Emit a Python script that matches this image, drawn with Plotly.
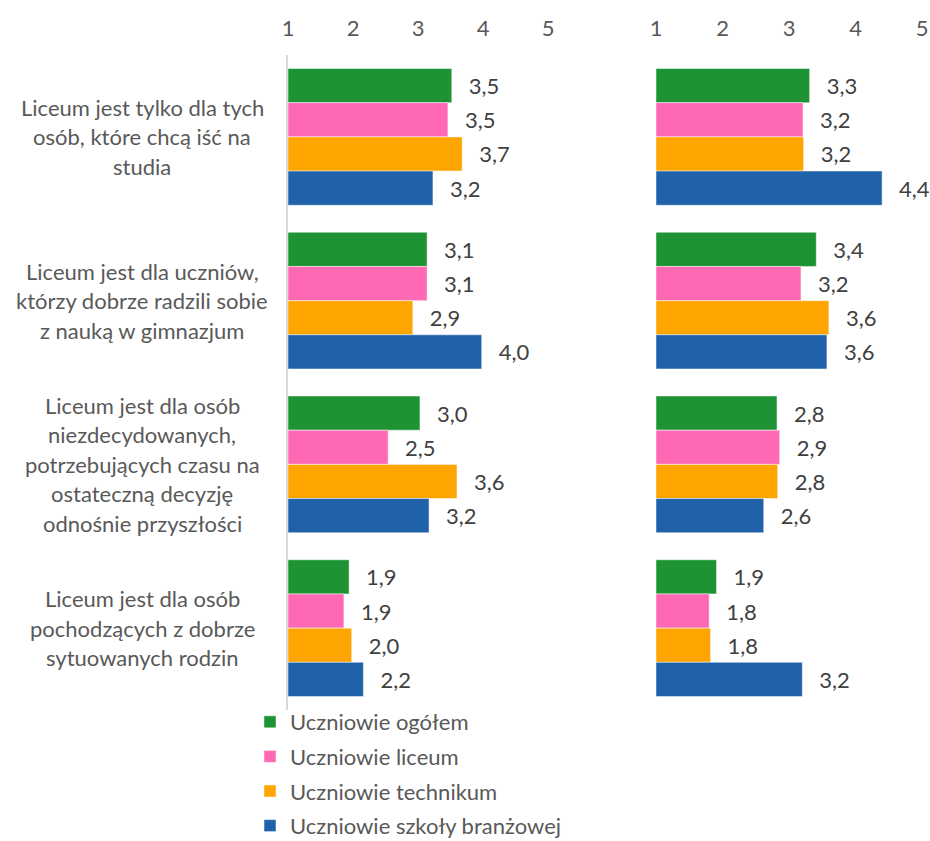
import plotly.graph_objects as go

categories = [
    "Liceum jest tylko dla tych<br>osób, które chcą iść na<br>studia",
    "Liceum jest dla uczniów,<br>którzy dobrze radzili sobie<br>z nauką w gimnazjum",
    "Liceum jest dla osób<br>niezdecydowanych,<br>potrzebujących czasu na<br>ostateczną decyzję<br>odnośnie przyszłości",
    "Liceum jest dla osób<br>pochodzących z dobrze<br>sytuowanych rodzin",
]
series_names = ["Uczniowie ogółem", "Uczniowie liceum", "Uczniowie technikum", "Uczniowie szkoły branżowej"]
series_colors = ["#1E9334", "#FF69B4", "#FFA500", "#1F62AA"]

left_ogolem = [3.52, 3.14, 3.03, 1.94]
left_liceum = [3.46, 3.14, 2.54, 1.86]
left_technikum = [3.68, 2.92, 3.60, 1.98]
left_branzowa = [3.23, 3.98, 3.17, 2.16]

right_ogolem = [3.31, 3.41, 2.82, 1.91]
right_liceum = [3.21, 3.18, 2.86, 1.80]
right_technikum = [3.22, 3.60, 2.83, 1.82]
right_branzowa = [4.40, 3.57, 2.62, 3.20]

axis_ticks = [1, 2, 3, 4, 5]
axis_min = 1

left_values = [left_ogolem, left_liceum, left_technikum, left_branzowa]
right_values = [right_ogolem, right_liceum, right_technikum, right_branzowa]

W, H = 930, 841
TXT = "#595959"
FONT = "Lato"
FS = 22

fig = go.Figure()
for i, name in enumerate(series_names):
    for panel, vals in ((0, left_values[i]), (1, right_values[i])):
        fig.add_trace(go.Bar(
            y=categories,
            x=[v - axis_min for v in vals],
            base=axis_min,
            customdata=vals,
            orientation="h",
            name=name,
            legendgroup=name,
            showlegend=(panel == 0),
            marker=dict(color=series_colors[i], line=dict(color="rgba(255,255,255,0.6)", width=0.8)),
            texttemplate="\u00a0\u00a0\u2009%{customdata:.1f}",
            textposition="outside",
            textfont=dict(family=FONT, size=FS, color="#404040"),
            constraintext="none",
            cliponaxis=False,
            hoverinfo="skip",
            xaxis="x" if panel == 0 else "x2",
            yaxis="y" if panel == 0 else "y2",
        ))

ydom = [(H - 710) / H, (H - 55) / H]
xcommon = dict(
    range=[1, 5], side="top", tickvals=axis_ticks, showgrid=False, zeroline=False,
    showline=False, ticks="outside", ticklen=9, tickcolor="rgba(0,0,0,0)",
    tickfont=dict(family=FONT, size=FS, color=TXT), automargin=False, fixedrange=True,
)
ycommon = dict(
    type="category", categoryorder="array", categoryarray=categories,
    range=[3.5, -0.5], showticklabels=False, showgrid=False, zeroline=False,
    ticks="", domain=ydom, automargin=False, fixedrange=True,
)

annotations = []
LS = 29.5
for ci, cat in enumerate(categories):
    lines = cat.split("<br>")
    n = len(lines)
    for j, line in enumerate(lines):
        annotations.append(dict(
            xref="paper", yref="y", x=142 / W, y=ci,
            yshift=((n - 1) / 2 - j) * LS,
            text=line, showarrow=False, xanchor="center", yanchor="middle",
            font=dict(family=FONT, size=FS, color=TXT),
        ))

fig.update_layout(
    width=W, height=H,
    margin=dict(l=0, r=0, t=0, b=0, autoexpand=False),
    paper_bgcolor="white", plot_bgcolor="white",
    separators=", ",
    barmode="group", bargap=0.165, bargroupgap=0,
    font=dict(family=FONT, size=FS, color=TXT),
    xaxis=dict(domain=[288 / W, 548 / W], anchor="y", **xcommon),
    xaxis2=dict(domain=[656 / W, 922 / W], anchor="y2", **xcommon),
    yaxis=dict(anchor="x", showline=True, linecolor="#D9D9D9", linewidth=1.5, **ycommon),
    yaxis2=dict(anchor="x2", showline=False, **ycommon),
    legend=dict(
        orientation="v", x=250 / W, y=(H - 701) / H, xanchor="left", yanchor="top",
        font=dict(family=FONT, size=FS, color=TXT), bgcolor="rgba(0,0,0,0)",
        tracegroupgap=3, traceorder="grouped",
    ),
    annotations=annotations,
)

fig.write_html(
    "out.html",
    config={"displayModeBar": False},
    post_script="document.body.style.margin='0';document.body.style.padding='0';",
)
